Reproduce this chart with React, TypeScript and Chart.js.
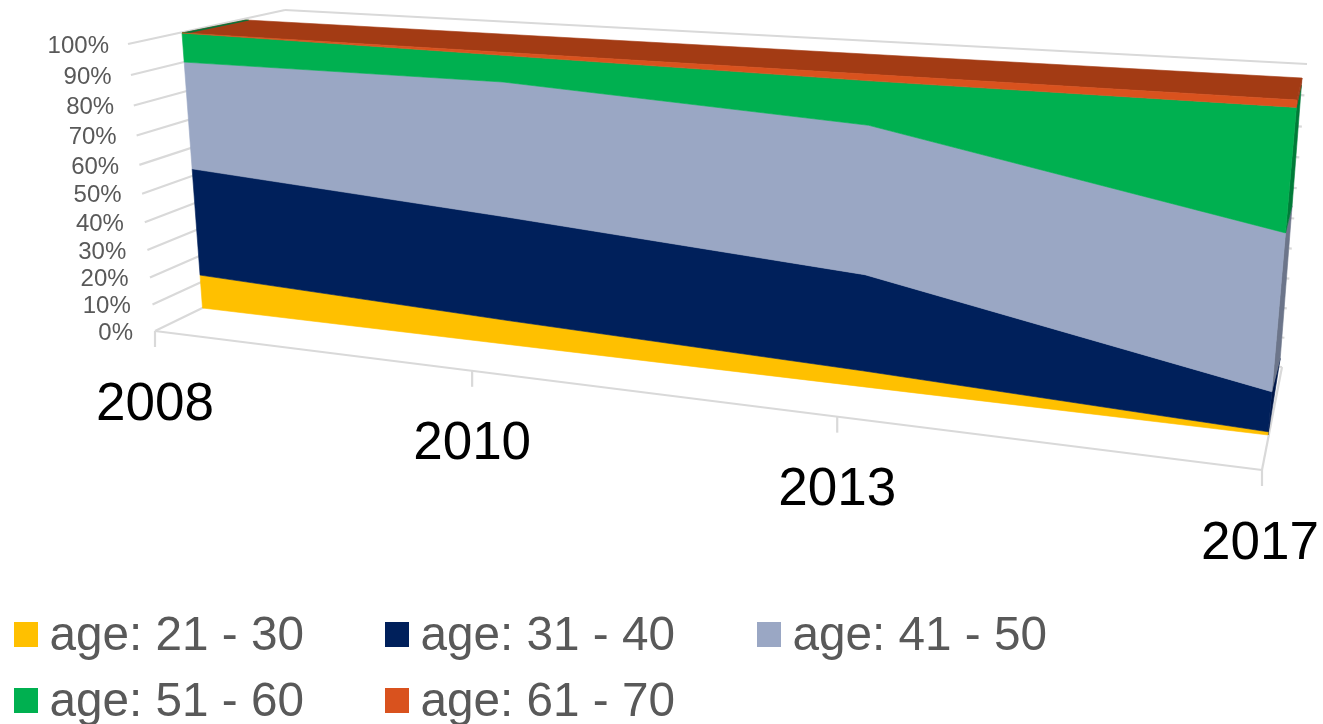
import React, { useEffect, useRef } from "react";
import { Chart, registerables } from "chart.js";

Chart.register(...registerables);

// ---- data (share of staff per survey year, %) ----
const years = ["2008", "2010", "2013", "2017"];
const age21to30 = [12.4, 8.5, 5.3, 1.0];
const age31to40 = [39.2, 36.2, 31.6, 12.5];
const age41to50 = [38.2, 45.5, 47.4, 48.0];
const age51to60 = [10.2, 8.8, 13.7, 36.4];
const age61to70 = [0.0, 1.0, 2.0, 2.1];
const seriesNames = ["age: 21 - 30", "age: 31 - 40", "age: 41 - 50", "age: 51 - 60", "age: 61 - 70"];

const frontColors = ["#FFC000", "#00205B", "#9AA7C4", "#00B050", "#D9521E"];
const sideColors = ["#B38600", "#001748", "#6C758A", "#007B38", "#98391A"];
const topColor = "#A33B14";
const topEdgeColor = "#00753A";
const wallColor = "#D9D9D9";
const textColor = "#595959";
const font = '"Liberation Sans", Arial, sans-serif';

type Pt = [number, number];
type Quad = [Pt, Pt, Pt, Pt];

// maps (u,v) in the unit square onto a quad: (0,0), (1,0), (1,1), (0,1)
function quadMap([p0, p1, p2, p3]: Quad) {
  const dx1 = p1[0] - p2[0], dx2 = p3[0] - p2[0], sx = p0[0] - p1[0] + p2[0] - p3[0];
  const dy1 = p1[1] - p2[1], dy2 = p3[1] - p2[1], sy = p0[1] - p1[1] + p2[1] - p3[1];
  const den = dx1 * dy2 - dx2 * dy1;
  const g = (sx * dy2 - dx2 * sy) / den;
  const h = (dx1 * sy - sx * dy1) / den;
  const a = p1[0] - p0[0] + g * p1[0], b = p3[0] - p0[0] + h * p3[0], c = p0[0];
  const d = p1[1] - p0[1] + g * p1[1], e = p3[1] - p0[1] + h * p3[1], f = p0[1];
  return (u: number, v: number): Pt => {
    const w = g * u + h * v + 1;
    return [(a * u + b * v + c) / w, (d * u + e * v + f) / w];
  };
}

// the planes of the 3-D box
const frontPlane = quadMap([[202.5, 308], [1268, 435], [1297, 100], [182, 33]]);
const backPlane = quadMap([[268, 292], [1277, 400], [1302, 78], [246, 20]]);
const leftWall = quadMap([[155, 331], [297, 262], [285, 10], [128, 44]]);
const rearWall = quadMap([[297, 262], [1282, 367], [1307, 64], [285, 10]]);
const floorEdgeC = -0.197;
const edgeX = (t: number) => {
  const a = 1107 + 1262 * floorEdgeC;
  return (a * t + 155) / (1 + floorEdgeC * t);
};
const edgeY = (x: number) => 331 + ((x - 155) * (470 - 331)) / (1262 - 155);

function poly(ctx: CanvasRenderingContext2D, pts: Pt[], color: string) {
  ctx.fillStyle = color;
  ctx.strokeStyle = color;
  ctx.lineWidth = 0.6;
  ctx.lineJoin = "round";
  ctx.beginPath();
  pts.forEach((p, i) => (i ? ctx.lineTo(p[0], p[1]) : ctx.moveTo(p[0], p[1])));
  ctx.closePath();
  ctx.fill();
  ctx.stroke();
}
function seg(ctx: CanvasRenderingContext2D, a: Pt, b: Pt) {
  ctx.beginPath();
  ctx.moveTo(a[0], a[1]);
  ctx.lineTo(b[0], b[1]);
  ctx.stroke();
}

const perspective = {
  id: "perspective",
  beforeDraw(chart: any) {
    const { x, y } = chart.scales;
    const area = chart.chartArea;
    x._computeLabelArea = () => undefined;
    y._computeLabelArea = () => undefined;
    y._labelItems = y._computeLabelItems(area).map((item: any, i: number) => {
      const value = y.ticks[i].value;
      const p = leftWall(0, value / 100);
      const off = 19 + (100 - value) * 0.03;
      return {
        ...item,
        textOffset: 0,
        options: { ...item.options, textAlign: "right", textBaseline: "middle", translation: [p[0] - off, p[1] + 2] },
      };
    });
    x._labelItems = x._computeLabelItems(area).map((item: any, i: number) => {
      const t = i / (x.ticks.length - 1);
      const px = edgeX(t);
      return {
        ...item,
        textOffset: 0,
        options: {
          ...item.options,
          textAlign: "center",
          textBaseline: "middle",
          translation: [i === 3 ? px - 2 : px, edgeY(px) + 16 + 58],
        },
      };
    });
  },
  beforeDatasetsDraw(chart: any) {
    const ctx: CanvasRenderingContext2D = chart.ctx;
    const { x, y } = chart.scales;
    ctx.save();

    // walls and floor
    ctx.strokeStyle = wallColor;
    ctx.lineWidth = 2.2;
    y.ticks.forEach((tk: any) => {
      const v = tk.value / 100;
      seg(ctx, leftWall(0, v), leftWall(1, v));
      seg(ctx, rearWall(0, v), rearWall(1, v));
    });
    seg(ctx, [155, 331], [1262, 470]);
    seg(ctx, [1262, 470], [1282, 367]);
    x.ticks.forEach((_: any, i: number) => {
      const px = edgeX(i / (x.ticks.length - 1));
      seg(ctx, [px, edgeY(px)], [px, edgeY(px) + 16]);
    });

    // stacked outlines read back through the library's scales
    const n = chart.data.labels.length;
    const lines: Pt[][] = chart.data.datasets.map((_: any, d: number) =>
      chart.getDatasetMeta(d).data.map((pt: any) => [
        (pt.x - x.left) / (x.right - x.left),
        y.getValueForPixel(pt.y) / 100,
      ])
    );
    const base: Pt[] = lines[0].map((p) => [p[0], 0]);

    // right-hand end faces: the lowest band's face is hidden, the next one runs down to the corner
    lines.forEach((line, d) => {
      if (d === 0) return;
      const lo = lines[d - 1][n - 1][1];
      const hi = line[n - 1][1];
      const bottom: Pt[] = d === 1 ? [frontPlane(1, 0)] : [frontPlane(1, lo), backPlane(1, lo)];
      const [first, ...rest] = bottom;
      poly(ctx, [first, frontPlane(1, hi), backPlane(1, hi), ...rest], sideColors[d]);
    });

    // top face
    poly(ctx, [frontPlane(0, 1), backPlane(0, 1), backPlane(1, 1), frontPlane(1, 1)], topColor);
    poly(ctx, [frontPlane(0, 1), backPlane(0, 1), backPlane(0.003, 1), frontPlane(0.005, 1)], topEdgeColor);

    // front faces
    lines.forEach((line, d) => {
      const under = d ? lines[d - 1] : base;
      const pts: Pt[] = [
        ...line.map((p) => frontPlane(p[0], p[1])),
        ...[...under].reverse().map((p) => frontPlane(p[0], p[1])),
      ];
      poly(ctx, pts, frontColors[d]);
    });
    ctx.restore();
  },
  afterDatasetsDraw(chart: any) {
    // legend, laid out in the reference's two rows
    const ctx: CanvasRenderingContext2D = chart.ctx;
    ctx.save();
    ctx.font = `47.7px ${font}`;
    ctx.textAlign = "left";
    ctx.textBaseline = "alphabetic";
    const cols = [14, 385, 757];
    const rows = [622, 688];
    chart.data.datasets.forEach((ds: any, i: number) => {
      const bx = cols[i % 3];
      const by = rows[Math.floor(i / 3)];
      ctx.fillStyle = ds.backgroundColor;
      ctx.fillRect(bx, by, 24, 25);
      ctx.fillStyle = textColor;
      ctx.fillText(ds.label, bx + 35.5, by + 28);
    });
    ctx.restore();
  },
};

export default function App() {
  const ref = useRef<HTMLCanvasElement>(null);
  useEffect(() => {
    const values = [age21to30, age31to40, age41to50, age51to60, age61to70];
    const chart = new Chart(ref.current!, {
      type: "line",
      data: {
        labels: years,
        datasets: values.map((data, i) => ({
          label: seriesNames[i],
          data,
          backgroundColor: frontColors[i],
          borderColor: frontColors[i],
          borderWidth: 0,
          pointRadius: 0,
          fill: false,
        })),
      },
      options: {
        animation: false,
        responsive: false,
        layout: { padding: { left: 150, right: 60, top: 40, bottom: 130 } },
        plugins: { legend: { display: false }, tooltip: { enabled: false }, title: { display: false } },
        scales: {
          x: {
            grid: { display: false },
            border: { display: false },
            ticks: { autoSkip: false, maxRotation: 0, minRotation: 0, color: "#000000", font: { family: font, size: 53 } },
          },
          y: {
            stacked: true,
            min: 0,
            max: 100,
            grid: { display: false },
            border: { display: false },
            ticks: {
              stepSize: 10,
              color: textColor,
              font: { family: font, size: 24 },
              callback: (v: any) => `${v}%`,
            },
          },
        },
      },
      plugins: [perspective],
    } as any);
    return () => chart.destroy();
  }, []);
  return (
    <div style={{ position: "fixed", left: 0, top: 0, width: 1323, height: 724, background: "#fff" }}>
      <canvas ref={ref} width={1323} height={724} style={{ display: "block" }} />
    </div>
  );
}
